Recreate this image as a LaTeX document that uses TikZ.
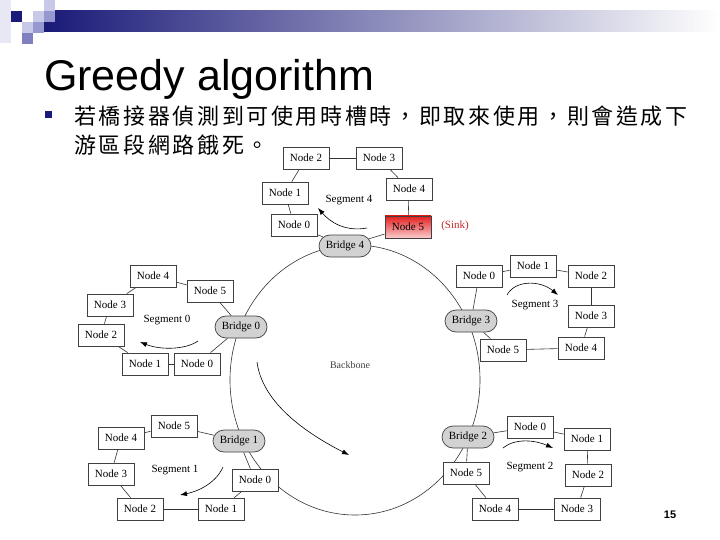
\documentclass[tikz,border=0pt]{standalone}
\usepackage{fontspec}
\setmainfont{Liberation Serif}
\newfontfamily\titlefont{Liberation Sans}
\newfontfamily\cjk[LetterSpace=12]{Noto Sans CJK TC}
\usetikzlibrary{shapes.misc,arrows.meta}
\pgfdeclarelayer{bg}
\pgfsetlayers{bg,main}
\definecolor{navy}{RGB}{26,26,120}
\definecolor{lav1}{RGB}{200,200,232}
\definecolor{lav2}{RGB}{152,152,208}
\definecolor{lav3}{RGB}{128,128,192}
\definecolor{lav0}{RGB}{232,232,244}
\definecolor{sinkred}{RGB}{190,40,40}
\tikzset{
  nodebox/.style={draw=black!75, line width=0.7pt, fill=white, minimum width=46pt,
    minimum height=22pt, inner sep=0pt, font=\fontsize{11}{13}\selectfont},
  bridge/.style={rounded rectangle, draw=black!75, line width=0.7pt, fill=gray!35,
    minimum width=54pt, minimum height=22pt, inner sep=1pt, font=\fontsize{11}{13}\selectfont},
  link/.style={draw=black!80, line width=0.6pt},
  segarrow/.style={-{Latex[length=7pt,width=5pt]}, line width=0.6pt},
  seglabel/.style={font=\fontsize{11}{13}\selectfont},
  deco/.style={minimum size=11pt, inner sep=0pt, draw=none}
}
\begin{document}
\begin{tikzpicture}[x=1pt,y=-1pt]
\useasboundingbox (0,0) rectangle (720,540);
% header decoration
\shade[left color=navy, right color=white] (44,11) rectangle (720,32);
\node[deco, fill=lav0, minimum height=43pt, anchor=north west] (d0) at (0,0) {};
\node[deco, fill=navy, anchor=north west] (d1) at (11,11) {};
\node[deco, fill=lav1, anchor=north west] (d2) at (33,11) {};
\node[deco, fill=lav1, anchor=north west] (d3) at (44,0) {};
\node[deco, fill=lav2, anchor=north west] (d4) at (44,11) {};
\node[deco, fill=lav1, anchor=north west] (d5) at (22,22) {};
\node[deco, fill=lav2, anchor=north west] (d6) at (33,22) {};
\node[deco, fill=lav3, anchor=north west] (d7) at (22,33) {};
% title and text
\node[anchor=base west, inner sep=0pt, font=\titlefont\fontsize{43}{50}\selectfont] (title) at (44,91) {Greedy algorithm};
\node[fill=navy, minimum size=7pt, inner sep=0pt] (bullet) at (48.5,115) {};
\node[anchor=west, inner sep=0pt, font=\cjk\fontsize{22}{26}\selectfont] (line1) at (74,116) {若橋接器偵測到可使用時槽時，即取來使用，則會造成下};
\node[anchor=west, inner sep=0pt, font=\cjk\fontsize{22}{26}\selectfont] (line2) at (74,145) {游區段網路餓死。};
\node[font=\titlefont\bfseries\fontsize{11}{13}\selectfont] (pagenum) at (670,515) {15};

% bridges
\node[bridge] (b4) at (345,246) {Bridge 4};
\node[bridge] (b0) at (241,327) {Bridge 0};
\node[bridge] (b3) at (471,321) {Bridge 3};
\node[bridge] (b1) at (239,441) {Bridge 1};
\node[bridge] (b2) at (468,437) {Bridge 2};
\begin{pgfonlayer}{bg}
\draw[link] (355,380) ellipse [x radius=125, y radius=135];
\end{pgfonlayer}
\node[font=\fontsize{10}{12}\selectfont, text=black!75] (backbone) at (350,365) {Backbone};
\coordinate (bbs) at (257,362);
\coordinate (bbe) at (349,455);
\draw[segarrow] (bbs) .. controls (262,400) and (300,430) .. (bbe);

% Segment 4
\node[nodebox] (s4n2) at (306,158) {Node 2};
\node[nodebox] (s4n3) at (379,158) {Node 3};
\node[nodebox] (s4n1) at (285,193) {Node 1};
\node[nodebox] (s4n4) at (409,189) {Node 4};
\node[nodebox] (s4n0) at (294,225) {Node 0};
\node[nodebox, top color={rgb,255:red,228;green,30;blue,30}, bottom color={rgb,255:red,250;green,205;blue,205}] (s4n5) at (408,227) {Node 5};
\node[font=\fontsize{11}{13}\selectfont, text=sinkred] (sink) at (455,226) {(Sink)};
\node[seglabel] (seg4) at (349,200) {Segment 4};
\begin{pgfonlayer}{bg}
\draw[link] (s4n2) -- (s4n3);
\draw[link] (s4n2) -- (s4n1);
\draw[link] (s4n3) -- (s4n4);
\draw[link] (s4n1) -- (s4n0);
\draw[link] (s4n4) -- (s4n5);
\draw[link] (s4n0) -- (b4);
\draw[link] (s4n5) -- (b4);
\end{pgfonlayer}
\coordinate (a4s) at (367,228);
\coordinate (a4e) at (318,208);
\draw[segarrow] (a4s) .. controls (345,232) and (330,222) .. (a4e);

% Segment 0
\node[nodebox] (s0n4) at (153,276) {Node 4};
\node[nodebox] (s0n5) at (210,291) {Node 5};
\node[nodebox] (s0n3) at (110,305) {Node 3};
\node[nodebox] (s0n2) at (101,335) {Node 2};
\node[nodebox] (s0n1) at (145,364) {Node 1};
\node[nodebox] (s0n0) at (197,364) {Node 0};
\node[seglabel] (seg0) at (167,320) {Segment 0};
\begin{pgfonlayer}{bg}
\draw[link] (s0n4) -- (s0n5);
\draw[link] (s0n4) -- (s0n3);
\draw[link] (s0n3) -- (s0n2);
\draw[link] (s0n2) -- (s0n1);
\draw[link] (s0n1) -- (s0n0);
\draw[link] (s0n0) -- (b0);
\draw[link] (s0n5) -- (b0);
\end{pgfonlayer}
\coordinate (a0s) at (198,341);
\coordinate (a0e) at (140,342);
\draw[segarrow] (a0s) .. controls (185,350) and (160,350) .. (a0e);

% Segment 3
\node[nodebox] (s3n0) at (479,276) {Node 0};
\node[nodebox] (s3n1) at (533,266) {Node 1};
\node[nodebox] (s3n2) at (591,276) {Node 2};
\node[nodebox] (s3n3) at (591,316) {Node 3};
\node[nodebox] (s3n4) at (581,348) {Node 4};
\node[nodebox] (s3n5) at (503,350) {Node 5};
\node[seglabel] (seg3) at (535,305) {Segment 3};
\begin{pgfonlayer}{bg}
\draw[link] (s3n0) -- (s3n1);
\draw[link] (s3n1) -- (s3n2);
\draw[link] (s3n2) -- (s3n3);
\draw[link] (s3n3) -- (s3n4);
\draw[link] (s3n4) -- (s3n5);
\draw[link] (s3n5) -- (b3);
\draw[link] (s3n0) -- (b3);
\end{pgfonlayer}
\coordinate (a3s) at (507,295);
\coordinate (a3e) at (558,295);
\draw[segarrow] (a3s) .. controls (515,280) and (540,280) .. (a3e);

% Segment 1
\node[nodebox] (s1n5) at (174,426) {Node 5};
\node[nodebox] (s1n4) at (121,438) {Node 4};
\node[nodebox] (s1n3) at (111,474) {Node 3};
\node[nodebox] (s1n0) at (255,480) {Node 0};
\node[nodebox] (s1n2) at (140,509) {Node 2};
\node[nodebox] (s1n1) at (221,509) {Node 1};
\node[seglabel] (seg1) at (175,470) {Segment 1};
\begin{pgfonlayer}{bg}
\draw[link] (s1n5) -- (s1n4);
\draw[link] (s1n5) -- (b1);
\draw[link] (s1n4) -- (s1n3);
\draw[link] (s1n3) -- (s1n2);
\draw[link] (s1n2) -- (s1n1);
\draw[link] (s1n1) -- (s1n0);
\draw[link] (s1n0) -- (b1);
\end{pgfonlayer}
\coordinate (a1s) at (223,467);
\coordinate (a1e) at (180,495);
\draw[segarrow] (a1s) .. controls (215,485) and (195,492) .. (a1e);

% Segment 2
\node[nodebox] (s2n0) at (530,427) {Node 0};
\node[nodebox] (s2n1) at (587,439) {Node 1};
\node[nodebox] (s2n5) at (466,473) {Node 5};
\node[nodebox] (s2n2) at (588,475) {Node 2};
\node[nodebox] (s2n4) at (495,509) {Node 4};
\node[nodebox] (s2n3) at (577,509) {Node 3};
\node[seglabel] (seg2) at (530,467) {Segment 2};
\begin{pgfonlayer}{bg}
\draw[link] (b2) -- (s2n0);
\draw[link] (s2n0) -- (s2n1);
\draw[link] (s2n1) -- (s2n2);
\draw[link] (s2n2) -- (s2n3);
\draw[link] (s2n3) -- (s2n4);
\draw[link] (s2n4) -- (s2n5);
\draw[link] (s2n5) -- (b2);
\end{pgfonlayer}
\coordinate (a2s) at (503,448);
\coordinate (a2e) at (553,448);
\draw[segarrow] (a2s) .. controls (515,438) and (535,440) .. (a2e);
\end{tikzpicture}
\end{document}
